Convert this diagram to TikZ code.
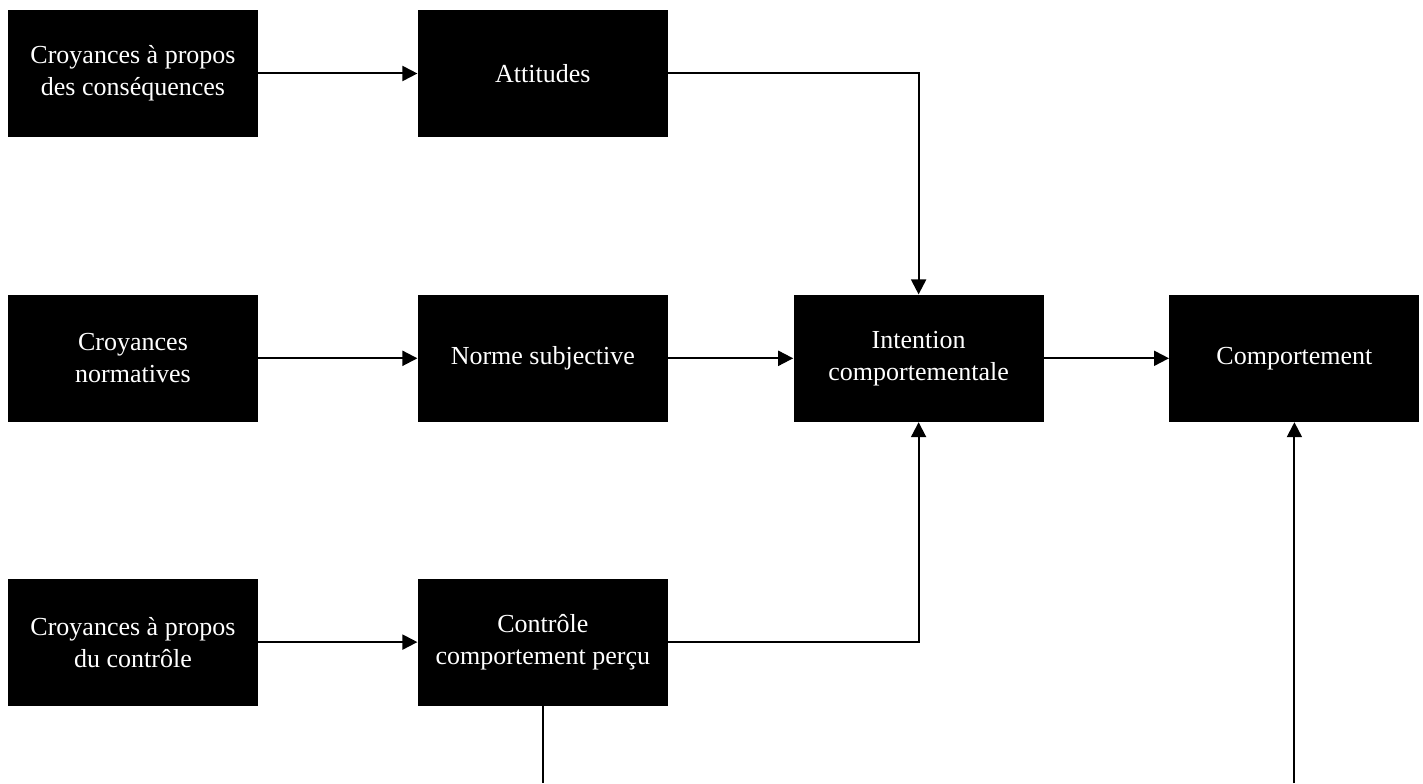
\documentclass[tikz,border=0pt]{standalone}
\usepackage{fontspec}
\setmainfont{Liberation Serif}
\usetikzlibrary{positioning, arrows.meta}

\begin{document}
\begin{tikzpicture}[x=0.5pt, y=0.5pt,
    concept/.style={rectangle, 
      fill=black, 
      text=white, 
      minimum width=125pt, 
      minimum height=63.5pt, 
      inner sep=0pt, 
      align=center, 
      font=\fontsize{13}{16}\selectfont},
    link/.style={line width=1pt, -{Triangle[length=7.5pt, width=7.5pt]}}]
  \useasboundingbox (0,0) rectangle (1423,783);

  \node [concept] (consbel) at (133,709.5) {Croyances à propos\\des conséquences};
  \node [concept, right=79.5pt of consbel] (attitudes) {Attitudes};

  \node [concept, below=78.5pt of consbel] (normbel) {Croyances\\normatives};
  \node [concept, right=79.5pt of normbel] (norm) {Norme subjective};
  \node [concept, right=62.5pt of norm] (intention) {Intention\\comportementale};
  \node [concept, right=62.5pt of intention] (behaviour) {Comportement};

  \node [concept, below=78pt of normbel] (ctrlbel) {Croyances à propos\\du contrôle};
  \node [concept, right=79.5pt of ctrlbel] (control) {Contrôle\\comportement perçu};

  \coordinate (bottom) at (0,0);

% INFLUENCES

  \draw[link] (consbel) -- (attitudes);
  \draw[link] (attitudes.east) -| (intention.north);

  \draw[link] (normbel) -- (norm);
  \draw[link] (norm) -- (intention);
  \draw[link] (intention) -- (behaviour);

  \draw[link] (ctrlbel) -- (control);
  \draw[link] (control.east) -| (intention.south);

  \draw[line width=1pt] (control.south) -- (control.south |- bottom);
  \draw[link] (behaviour.south |- bottom) -- (behaviour.south);

\end{tikzpicture}
\end{document}
